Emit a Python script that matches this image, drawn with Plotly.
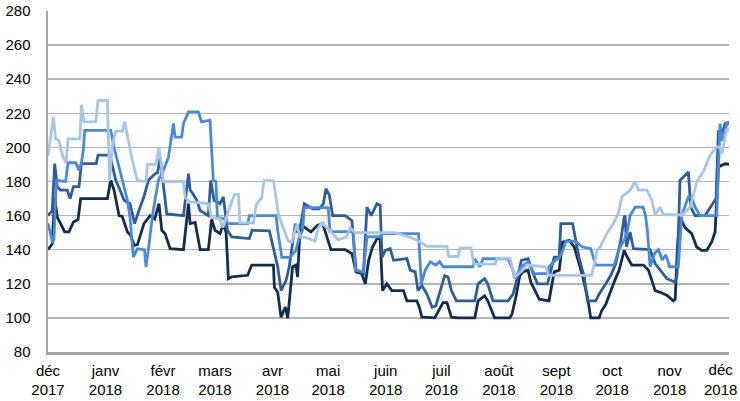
import numpy as np
import pandas as pd
import plotly.graph_objects as go

START = "2017-12-01"

# ---- data: (day offset from 1 Dec 2017, value) ----
s1_days = [0, 2.3, 3.6, 5, 6.8, 9, 11.3, 13.7, 16.2, 17.6, 32, 33.8, 35.6, 38.3, 40, 42.8, 44.6, 46.4, 48.2, 50, 51.7,
           55, 57.5, 59.8, 61.3, 63.1, 65.8, 73, 75.7, 76.6, 79.3, 82, 86.4, 88.2, 90, 92.7, 94.5, 96, 97.2, 99, 107.6,
           109.8, 121.5, 122, 123.8, 125.6, 127.9, 129.2, 131.8, 133.6, 134.5, 135.8, 138.1, 141.7, 145.3, 148, 149.8,
           152.5, 160.2, 163.8, 166, 169, 171, 172.8, 174.9, 177.3, 179, 180.3, 182.6, 185.3, 191.6, 193.4, 198.8,
           200.1, 201.5, 208.4, 212.9, 215, 217.4, 221, 230, 231.8, 235.3, 237, 240.7, 248.8, 250, 252.4, 254.2, 256,
           258.7, 260.2, 264.7, 270, 272.8, 275.5, 277.3, 280.9, 283.6, 288, 290.7, 292.5, 297, 298.3, 300.6, 303.3,
           305.1, 307.8, 310.5, 312, 314.6, 320.9, 323.6, 325.4, 327.2, 329.9, 333.5, 337, 338, 339.2, 340.6, 343.3,
           346.9, 349.6, 352.3, 355, 357.7, 359.5, 361.3, 364.9, 367.7]
s1_vals = [140, 143.5, 171, 159, 155.3, 150.4, 150.4, 156.3, 157.7, 170, 170, 180.7, 175, 160, 159.5, 150.4, 148.5, 142.6,
           143, 149.4, 155.3, 160, 158, 167, 151.4, 149.4, 140.6, 140, 167, 155.3, 156, 140, 140, 157.7, 151.4, 149.4,
           155.3, 150, 123, 124, 125, 131, 131, 118, 115, 100.4, 106.3, 99.8, 130, 131, 124, 151.4, 153.3, 150.4, 154.3,
           155.3, 149.4, 140, 140, 137.7, 127, 126, 120, 133.8, 141.6, 146.5, 146.5, 116, 120, 116, 116, 110, 110,
           106.3, 100.4, 100, 109, 109, 100.4, 100, 100, 110, 113, 110, 100, 100, 102, 113.5, 124.8, 127, 128, 121,
           111, 110, 127, 128, 144.5, 145.5, 141.6, 125, 112.3, 100, 100, 104, 108, 116, 121, 128, 139.6, 136, 131,
           131, 128, 122, 116, 115, 113.3, 110, 111, 141.6, 159, 153, 149.4, 141.6, 139.6, 139.6, 144.5, 150.4, 188.5,
           190.4, 190]

s2_days = [0, 2.3, 3.6, 5, 6.8, 10.4, 11.9, 13.7, 16.7, 18, 26, 27, 33.4, 36.5, 38.8, 41, 44.2, 46.7, 49, 51.7, 54.1,
           57.7, 59, 60.5, 62.5, 64, 73, 75.7, 76.6, 78, 80.2, 82, 86.4, 87.7, 89.5, 92.7, 94.5, 96.7, 99, 108.5, 110,
           119.3, 123.8, 125.6, 128.3, 130, 133.3, 134.5, 136.3, 138.1, 142.6, 146.2, 148.4, 149.8, 151.6, 153.4, 160.2,
           163.8, 166, 170, 171.9, 174.2, 177.3, 179, 180, 181.8, 184.4, 186.2, 193.4, 195.2, 197.9, 199.4, 201.5,
           204.2, 207, 209, 213.8, 215.6, 217.4, 220.1, 230, 231.8, 235.3, 237, 239.8, 248, 250.6, 253.3, 255.1, 258.7,
           261.1, 263.8, 269.2, 272.8, 275.5, 276.4, 282.7, 284.5, 286.3, 289, 290.7, 295.2, 297, 300.6, 303.3, 306,
           308.7, 310.5, 311, 311.8, 313.7, 315.5, 324.5, 327.2, 329.9, 333.5, 338, 339, 340.6, 342.4, 345.1, 346.4,
           348.7, 354.1, 357.7, 360, 361.3, 362.2, 364.9, 367.7]
s2_vals = [160, 163, 190.5, 176.8, 175, 175, 170, 177, 177, 190.5, 190.5, 195.5, 195.5, 180.7, 175, 169, 167, 155.3, 163,
           171, 180.7, 184.6, 185, 194, 175, 161, 160, 184.6, 175, 173, 169, 163, 160, 180.7, 169, 167, 171, 151.4,
           147.5, 146.5, 151.4, 151, 130, 116, 122, 130, 155.3, 150, 155.3, 167, 164, 164, 167, 175.8, 172, 160, 160,
           157, 128, 126, 165, 160, 167, 166, 135.5, 139.6, 140.6, 133.8, 134.8, 128, 127, 116, 119, 114, 106.3, 107,
           124.8, 124, 116, 110, 110, 120, 123, 120, 110, 110, 114, 124.8, 133.8, 134.8, 127, 120, 120, 135.7, 135.7,
           155.3, 155.3, 145.5, 134.8, 124, 110, 110, 114, 120, 125, 131.8, 145.5, 159, 160, 141.6, 150.4, 140.6, 140,
           131.8, 128, 123, 121, 125, 180.7, 182.6, 185.6, 165, 160, 160, 166, 170, 210, 204, 214, 215]

s3_days = [0, 2.5, 3.2, 4.5, 9.5, 10.8, 14.9, 16.7, 18, 19, 19.8, 33.8, 35.6, 39.2, 42.8, 44.2, 46, 48.2, 52, 52.8, 54.1,
           56.4, 59.5, 62.2, 64.9, 67.6, 68.5, 72, 73, 75.7, 81, 82.8, 87.3, 89.1, 90.5, 91.3, 94.5, 97.2, 107.6, 108.5,
           122.9, 123.8, 126, 130.5, 133.6, 135.5, 137.2, 138.1, 151, 152, 164.6, 165.6, 170, 171.9, 179, 180, 199.7,
           201.2, 203.3, 206, 209, 211, 213, 229, 230, 232.7, 234.5, 247.9, 250.6, 251.5, 255.1, 258.7, 262, 269.2,
           270, 273.7, 275.5, 277.8, 279, 283.6, 285.4, 288, 292.5, 295.2, 305.1, 307.8, 310.5, 312, 313.7, 316.4,
           320.7, 322, 323, 324.5, 327, 329, 331, 333, 335, 339.7, 341.5, 345.1, 346.9, 348.7, 351.4, 360.4, 362.2,
           363.1, 366.2, 367.7]
s3_vals = [155.5, 144, 146, 180.5, 180, 191, 191, 186.5, 191, 198, 210, 210, 200, 184.6, 169, 159, 135.7, 140.5, 140, 130,
           140, 161, 180.7, 186.6, 194, 214, 206, 206, 214, 220.8, 220.8, 215, 216, 180.7, 180, 159, 158.3, 155.3,
           155.3, 160, 160, 151.4, 135.5, 135.5, 139.6, 147.6, 151.4, 164.7, 164.7, 150.6, 150.6, 128, 127, 147.6,
           147.6, 149.4, 149.4, 120, 128, 132.8, 131, 133, 130, 130, 134.7, 130, 134.7, 134.7, 128, 123, 130, 132.8,
           126, 126, 130, 134, 135, 140.6, 145, 145, 144, 141.6, 140.6, 130.9, 130.9, 140.6, 145.5, 150, 160, 165, 165,
           160, 151.4, 130, 138, 140, 134, 137, 130, 130, 160, 171, 171, 165, 160, 160, 214, 204, 215, 213]

s4_days = [0, 2.9, 4.1, 5.9, 7.2, 8.3, 9.7, 10.8, 17.2, 18, 19.4, 25.7, 27, 32, 33.2, 34.7, 36.5, 40.1, 41.3, 43.7, 45.5,
           48.2, 52.8, 53.6, 58.2, 59.8, 62.2, 73, 73.9, 76.6, 86.4, 88.2, 92.7, 94.2, 96.7, 100.5, 102.6, 103.5, 110.7,
           112.1, 115.2, 116.4, 121.5, 124.2, 126.8, 129.5, 131.4, 134.1, 135.8, 139.5, 143.9, 145.7, 147.5, 150.6,
           156.5, 161, 162.9, 165.5, 187, 193.4, 198.8, 204.2, 215, 216, 221, 222, 228, 229.5, 241, 242, 249, 251.5,
           255, 258, 268, 270, 293, 296, 297.6, 301.2, 304.8, 307.4, 309.3, 313.7, 316.4, 318.2, 322.7, 325.4, 327.2,
           329.9, 331.7, 339.8, 341.5, 346.1, 349.7, 353.3, 356.8, 360.4, 362.2, 363.1, 365.8, 367.7]
s4_vals = [195, 218, 205, 204, 198, 194, 191, 205, 205, 225, 215, 215, 227.5, 227.5, 180.5, 201, 209.5, 209.5, 215, 202,
           192, 180.5, 180, 190, 190, 200, 180, 180, 170.5, 168, 167, 159, 158, 153, 161, 172.5, 172.5, 155.7, 155.7,
           166, 170.7, 180.5, 180.5, 160.6, 152.8, 145, 144.5, 155, 147.6, 147, 145, 153, 155.7, 152.6, 145.8, 147.6,
           153, 150, 150, 148, 145.6, 142, 142, 136, 136, 141, 141, 131.5, 131.5, 135, 135, 124, 127, 131, 130, 125,
           125, 139.6, 141.8, 149.6, 155.5, 161.4, 171, 175, 180, 175, 175, 169, 160.5, 165, 160.5, 160.5, 160, 165,
           180, 186, 195.4, 200.3, 200.3, 196, 211, 209]

month_ticks = ["2017-12-01", "2018-01-01", "2018-02-01", "2018-03-01", "2018-04-01", "2018-05-01", "2018-06-01",
               "2018-07-01", "2018-08-01", "2018-09-01", "2018-10-01", "2018-11-01", "2018-12-01"]
month_labels = ["déc<br>2017", "janv<br>2018", "févr<br>2018", "mars<br>2018", "avr<br>2018", "mai<br>2018",
                "juin<br>2018", "juil<br>2018", "août<br>2018", "sept<br>2018", "oct<br>2018", "nov<br>2018",
                "déc<br>2018"]

series = [
    (s1_days, s1_vals, "#142d4f"),
    (s2_days, s2_vals, "#2e5e98"),
    (s3_days, s3_vals, "#4b8ad6"),
    (s4_days, s4_vals, "#a9c5e6"),
]

base = pd.Timestamp(START)
fig = go.Figure()
for days, vals, color in series:
    x = base + pd.to_timedelta(np.array(days, dtype=float), unit="D")
    fig.add_trace(go.Scatter(x=x, y=vals, mode="lines",
                             line=dict(color=color, width=2.8), hoverinfo="skip"))

font = dict(family="Liberation Sans, Arial, sans-serif", size=15, color="#000000")

# last month label drawn as an annotation so it can sit slightly left (as in the original)
tick_text_axis = month_labels[:-1] + [""]
fig.add_annotation(x=month_ticks[-1], y=0, xref="x", yref="paper",
                   text=month_labels[-1], showarrow=False, font=font,
                   xanchor="center", yanchor="top", xshift=-5, yshift=-7, align="center")

fig.update_layout(
    width=740, height=401,
    margin=dict(l=48, r=11, t=11, b=49),
    paper_bgcolor="white", plot_bgcolor="white",
    showlegend=False,
    hovermode=False,
    font=font,
    xaxis=dict(
        type="date",
        range=["2017-12-01", "2018-12-03"],
        tickvals=month_ticks, ticktext=tick_text_axis,
        showgrid=False, zeroline=False,
        showline=True, linecolor="#a6a6a6", linewidth=2.5,
        ticks="outside", ticklen=3, tickcolor="rgba(0,0,0,0)",
        tickfont=font, automargin=False, ticklabeloverflow="allow",
    ),
    yaxis=dict(
        range=[80, 280], dtick=20, tick0=80,
        showgrid=True, gridcolor="#b4b4b4", gridwidth=1.5,
        zeroline=False,
        showline=True, linecolor="#a6a6a6", linewidth=2.5,
        ticks="outside", ticklen=12, tickcolor="rgba(0,0,0,0)",
        tickfont=font, automargin=False, ticklabeloverflow="allow",
    ),
)

fig.write_html("out.html", config={"displayModeBar": False, "staticPlot": True},
               post_script="document.body.style.margin='0';document.body.style.overflow='hidden';")
